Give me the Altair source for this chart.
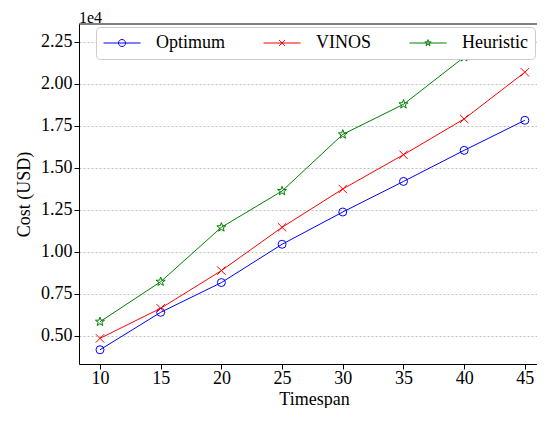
import altair as alt
import pandas as pd

timespan = [10, 15, 20, 25, 30, 35, 40, 45]
optimum = [4180, 6410, 8180, 10460, 12380, 14200, 16050, 17840]
vinos = [4860, 6650, 8890, 11470, 13750, 15790, 17920, 20700]
heuristic = [5850, 8230, 11470, 13630, 17000, 18790, 21600]
series = ["Optimum", "VINOS", "Heuristic"]
colors = ["#0000ff", "#ff0000", "#008000"]
y_ticks = [5000, 7500, 10000, 12500, 15000, 17500, 20000, 22500]
offset_label = ["1e4"]

rows = []
for name, vals in zip(series, [optimum, vinos, heuristic]):
    for t, v in zip(timespan, vals):
        rows.append({"Timespan": t, "Cost": v, "Series": name})
df = pd.DataFrame(rows)

FONT = "Liberation Serif"
FS = 18
W, H = 458, 340

STAR = "M0,-1L0.235,-0.324L0.951,-0.309L0.380,0.124L0.588,0.809L0,0.4L-0.588,0.809L-0.380,0.124L-0.951,-0.309L-0.235,-0.324Z"
XMARK = "M-1,-1L1,1M-1,1L1,-1"
plot_shapes = ["circle", XMARK, STAR]
legend_shapes = [
    "M-1,0H1M-0.19,0A0.19,0.19 0 1,0 0.19,0A0.19,0.19 0 1,0 -0.19,0",
    "M-1,0H1M-0.16,-0.16L0.16,0.16M-0.16,0.16L0.16,-0.16",
    "M-1,0H1M0,-0.18L0.042,-0.058L0.171,-0.056L0.068,0.022L0.106,0.146L0,0.072L-0.106,0.146L-0.068,0.022L-0.171,-0.056L-0.042,-0.058Z",
]
marker_sizes = [64, 70, 90]

x_enc = alt.X(
    "Timespan:Q",
    scale=alt.Scale(domain=[8.27, 46.0], nice=False, zero=False),
    axis=alt.Axis(values=timespan, title="Timespan", grid=False, format="d",
                  labelPadding=0, titleX=235, titleY=40, titleBaseline="alphabetic"),
)
y_enc = alt.Y(
    "Cost:Q",
    scale=alt.Scale(domain=[3333, 23571], nice=False, zero=False),
    axis=alt.Axis(
        values=y_ticks,
        title="Cost (USD)",
        grid=True,
        labelPadding=2,
        labelExpr="format(datum.value / 10000, '.2f')",
    ),
)

base = alt.Chart(df)
layers = []
for name, col, shp, sz in zip(series, colors, plot_shapes, marker_sizes):
    sub = base.transform_filter(alt.datum.Series == name)
    layers.append(
        sub.mark_line(color=col, strokeWidth=1).encode(x=x_enc, y=y_enc)
    )
    layers.append(
        sub.mark_point(color=col, shape=shp, size=sz, filled=False, strokeWidth=1, opacity=1).encode(
            x=x_enc, y=y_enc
        )
    )

leg = alt.Legend(
    title=None,
    orient="none",
    legendX=17,
    legendY=3,
    direction="horizontal",
    symbolSize=1369,
    symbolStrokeWidth=1,
    clipHeight=18,
    labelFont=FONT,
    labelFontSize=FS,
    labelColor="black",
    labelOffset=15,
    columnPadding=37,
    padding=7,
    strokeColor="#cccccc",
    cornerRadius=4,
    fillColor="white",
)

legend_layer = base.mark_point(filled=False, opacity=0).encode(
    x=x_enc,
    y=y_enc,
    color=alt.Color("Series:N", scale=alt.Scale(domain=series, range=colors), sort=series, legend=leg),
    shape=alt.Shape("Series:N", scale=alt.Scale(domain=series, range=legend_shapes), sort=series, legend=leg),
)
layers.append(legend_layer)

top_spine = alt.Chart(pd.DataFrame({"k": [0]})).mark_rule(color="black", strokeWidth=1).encode(
    x=alt.value(0), x2=alt.value(W), y=alt.value(0)
)
layers.append(top_spine)

offset_text = alt.Chart(pd.DataFrame({"t": offset_label})).mark_text(
    align="left", baseline="alphabetic", font=FONT, fontSize=16, color="black"
).encode(x=alt.value(0), y=alt.value(-1.5), text="t:N")
layers.append(offset_text)

chart = (
    alt.layer(*layers)
    .properties(
        width=W,
        height=H,
        autosize=alt.AutoSizeParams(type="none"),
        padding={"left": 71, "top": 16, "right": 0, "bottom": 44},
    )
    .configure_view(stroke=None)
    .configure_axis(
        domainColor="black",
        domainWidth=1,
        tickColor="black",
        tickSize=5,
        labelFont=FONT,
        labelFontSize=FS,
        labelColor="black",
        titleFont=FONT,
        titleFontSize=FS,
        titleFontWeight="normal",
        titleColor="black",
        gridColor="#b0b0b0",
        gridDash=[2, 2],
        gridWidth=0.8,
    )
    .configure_axisY(titlePadding=7)
)

chart.save("out.html", embed_options={"renderer": "svg", "actions": False})
